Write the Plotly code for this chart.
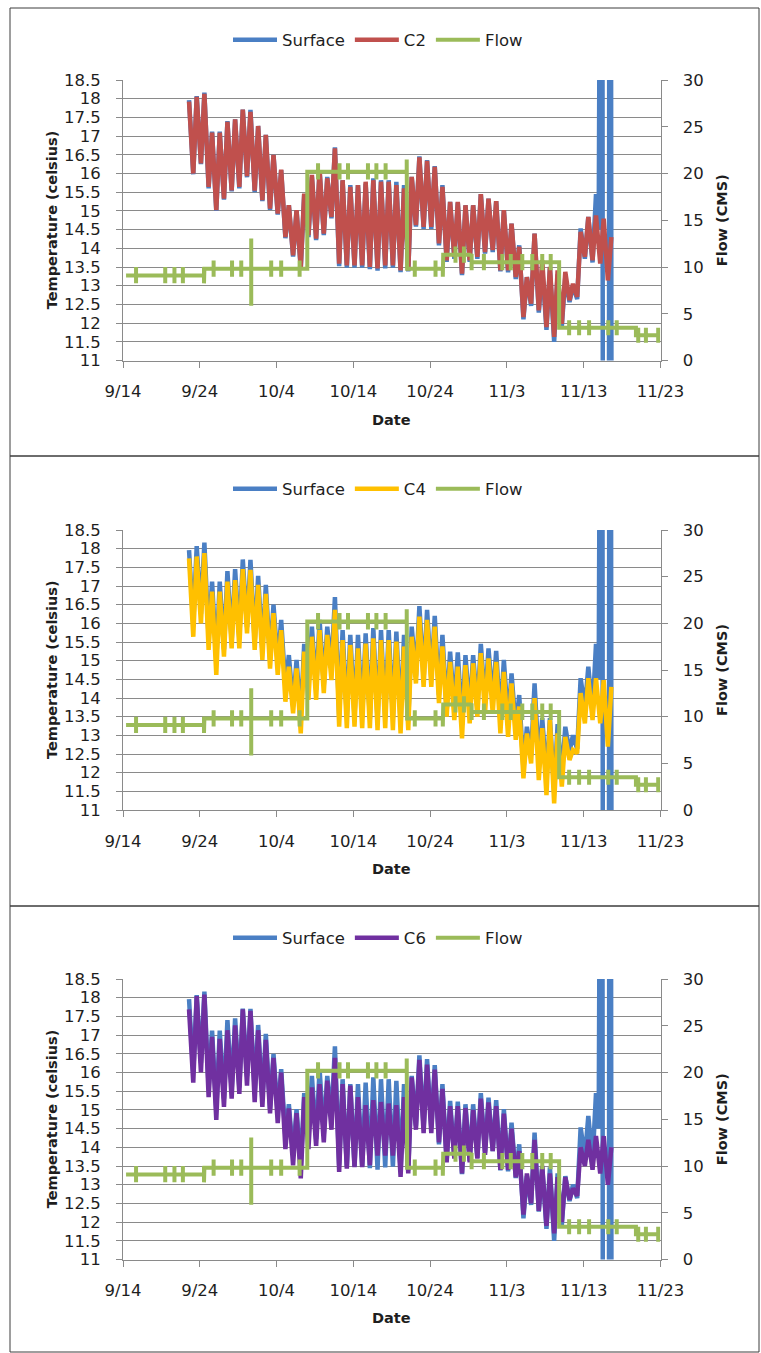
import plotly.graph_objects as go
from datetime import datetime, timedelta

W, H = 761, 1353
BASE = datetime(2009, 9, 14)

# ---------------- data ----------------
# day offsets from 9/14: daily maxima (afternoon) start at day 8, minima (early morning) at day 9
hi_days = list(range(8, 64))
lo_days = list(range(9, 64))

surface_hi = [17.96, 18.07, 18.16, 17.12, 17.12, 17.40, 17.45, 17.71, 17.70, 17.27,
              17.03, 16.50, 16.09, 15.15, 15.02, 15.45, 15.91, 16.09, 15.91, 16.70,
              15.82, 15.69, 15.69, 15.73, 15.87, 15.82, 15.82, 15.78, 15.69, 15.91,
              16.46, 16.36, 16.20, 15.69, 15.24, 15.22, 15.15, 15.15, 15.45, 15.33,
              15.26, 15.02, 14.66, 14.08, 13.23, 14.39, 13.46, 13.46, 13.30, 13.23,
              13.00, 14.53, 14.84, 15.45]
surface_lo = [15.98, 16.25, 15.60, 15.00, 15.30, 15.52, 15.60, 15.90, 15.50, 15.26,
              15.03, 14.90, 14.27, 13.78, 13.45, 14.30, 14.22, 14.35, 14.80, 13.52,
              13.48, 13.48, 13.48, 13.44, 13.40, 13.46, 13.48, 13.36, 13.38, 14.58,
              14.52, 14.52, 14.08, 13.64, 13.72, 13.28, 13.64, 13.72, 13.86, 13.90,
              13.38, 13.36, 13.18, 12.10, 12.46, 12.28, 11.82, 11.50, 11.92, 12.56,
              12.64, 13.72, 13.62]
# sensor out of the water near 11/15-11/16 (values far off scale)
surface_tail_days = [61.95, 62.25, 62.40, 62.55, 63.25, 63.35, 63.50, 63.70]
surface_tail_vals = [14.5, 30.0, 30.0, -5.0, -5.0, 30.0, 30.0, -5.0]

c2_hi = [17.92, 18.05, 18.13, 17.09, 17.09, 17.38, 17.45, 17.71, 17.65, 17.27,
         17.03, 16.50, 16.10, 15.15, 15.02, 15.46, 15.96, 16.09, 15.87, 16.67,
         15.82, 15.64, 15.69, 15.78, 15.82, 15.78, 15.78, 15.69, 15.60, 15.91,
         16.43, 16.34, 16.18, 15.64, 15.24, 15.24, 15.15, 15.15, 15.45, 15.33,
         15.26, 15.02, 14.66, 14.04, 13.23, 14.39, 13.68, 13.50, 13.41, 13.37,
         13.05, 14.44, 14.84, 14.88, 14.79, 14.30]
c2_lo = [16.00, 16.27, 15.64, 15.02, 15.33, 15.55, 15.64, 15.93, 15.54, 15.29,
         15.06, 14.93, 14.30, 13.81, 13.50, 14.35, 14.26, 14.39, 14.84, 13.59,
         13.54, 13.54, 13.54, 13.50, 13.46, 13.54, 13.54, 13.41, 13.41, 14.62,
         14.57, 14.57, 14.13, 13.68, 13.77, 13.32, 13.68, 13.77, 13.90, 13.95,
         13.41, 13.41, 13.23, 12.16, 12.52, 12.34, 11.89, 11.63, 11.98, 12.61,
         12.70, 13.77, 13.68, 13.59, 13.14]

c4_hi = [17.74, 17.79, 17.88, 16.85, 16.85, 17.12, 17.16, 17.45, 17.43, 17.03,
         16.79, 16.27, 15.82, 14.84, 14.79, 15.24, 15.64, 15.82, 15.69, 16.36,
         15.55, 15.42, 15.33, 15.46, 15.60, 15.55, 15.55, 15.51, 15.38, 15.64,
         16.18, 16.09, 15.91, 15.38, 14.97, 14.84, 14.88, 14.93, 15.20, 15.06,
         14.97, 14.70, 14.39, 13.77, 13.05, 14.00, 13.19, 13.41, 13.05, 12.96,
         12.61, 14.13, 14.53, 14.53, 14.48, 14.30]
c4_lo = [15.64, 16.00, 15.29, 14.62, 15.11, 15.33, 15.33, 15.73, 15.29, 15.02,
         14.79, 14.62, 13.90, 13.59, 13.05, 13.95, 13.95, 14.13, 14.48, 13.23,
         13.19, 13.23, 13.19, 13.19, 13.14, 13.19, 13.14, 13.05, 13.14, 14.39,
         14.30, 14.30, 13.86, 13.50, 13.41, 12.92, 13.32, 13.50, 13.59, 13.59,
         13.05, 12.96, 12.88, 11.85, 12.25, 11.80, 11.40, 11.18, 11.63, 12.34,
         12.52, 13.32, 13.41, 13.32, 12.70]

c6_hi = [17.69, 18.04, 18.08, 16.95, 16.90, 17.13, 17.26, 17.69, 17.65, 17.13,
         16.87, 16.39, 16.00, 15.04, 14.91, 15.34, 15.60, 15.69, 15.78, 16.39,
         15.69, 15.65, 15.34, 15.13, 15.26, 15.21, 15.17, 15.13, 15.34, 15.87,
         16.34, 16.21, 16.08, 15.56, 15.10, 15.10, 15.05, 15.00, 15.30, 15.20,
         15.10, 14.90, 14.50, 13.90, 13.30, 14.20, 13.50, 13.30, 13.20, 13.20,
         12.90, 14.00, 14.20, 14.30, 14.30, 14.00]
c6_lo = [15.73, 16.00, 15.34, 14.73, 15.08, 15.30, 15.43, 15.65, 15.21, 15.08,
         14.91, 14.65, 13.95, 13.52, 13.17, 13.95, 14.04, 14.13, 14.47, 13.34,
         13.43, 13.47, 13.47, 13.52, 13.78, 13.78, 13.78, 13.21, 13.30, 14.47,
         14.38, 14.38, 14.13, 13.60, 13.70, 13.30, 13.60, 13.70, 13.80, 13.90,
         13.40, 13.40, 13.20, 12.20, 12.50, 12.30, 11.90, 11.70, 12.00, 12.60,
         12.70, 13.50, 13.40, 13.30, 13.00]

# flow (CMS): step levels and short glitch spikes
flow_step_days = [0.4, 10.6, 24.0, 37.0, 41.7, 45.3, 56.8, 66.8]
flow_step_levels = [9.1, 9.8, 20.2, 9.8, 11.3, 10.5, 3.5, 2.7]
flow_end_day = 69.9
flow_spike_days = [1.7, 5.5, 6.7, 7.8, 10.55, 11.8, 14.2, 15.4, 16.7, 19.3,
                   20.6, 23.0, 25.4, 28.2, 29.3, 31.9, 33.0, 34.2, 36.95, 38.0,
                   40.7, 41.65, 43.3, 44.4, 45.4, 47.0, 49.4, 50.5, 52.0, 53.3,
                   54.6, 55.7, 58.1, 59.4, 60.7, 63.2, 64.3, 67.1, 68.1, 69.7]
flow_spike_up = [0.9, 0.9, 0.9, 0.9, 0.9, 0.9, 0.9, 0.9, 3.25, 0.9,
                 0.9, 0.9, 0.9, 0.9, 0.9, 0.9, 0.9, 0.9, 1.3, 0.9,
                 0.9, 0.9, 0.9, 0.9, 0.9, 0.9, 0.9, 0.9, 0.9, 0.9,
                 0.9, 0.9, 0.8, 0.8, 0.8, 0.8, 0.8, 0.8, 0.8, 0.8]
flow_spike_down = [0.85, 0.85, 0.85, 0.85, 0.85, 0.85, 0.85, 0.85, 3.95, 0.85,
                   0.85, 0.85, 0.85, 0.85, 0.85, 0.85, 0.85, 0.85, 0.0, 0.85,
                   0.85, 0.85, 0.85, 0.85, 0.85, 0.85, 0.85, 0.85, 0.85, 0.85,
                   0.85, 0.85, 0.8, 0.8, 0.8, 0.8, 0.8, 0.8, 0.8, 0.8]

xtick_days = [0, 10, 20, 30, 40, 50, 60, 70]
xtick_labels = ["9/14", "9/24", "10/4", "10/14", "10/24", "11/3", "11/13", "11/23"]

series_names = ["C2", "C4", "C6"]
series_colors = ["#C0504D", "#FFC000", "#7030A0"]
SURF_COLOR = "#4A7FC4"
FLOW_COLOR = "#9BBB59"

# ---------------- helpers ----------------
def to_date(d):
    return BASE + timedelta(days=d)


def daily_series(hi, lo):
    xs, ys = [hi_days[0] + 0.6], [hi[0]]
    for i in range(len(lo)):
        d = lo_days[i]
        xs.append(d + 0.15)
        ys.append(lo[i])
        if i + 1 < len(hi):
            xs.append(d + 0.6)
            ys.append(hi[i + 1])
    return xs, ys


def flow_series():
    events = []
    for d, lv in zip(flow_step_days, flow_step_levels):
        events.append((d, 0, lv, 0))
    for d, u, dn in zip(flow_spike_days, flow_spike_up, flow_spike_down):
        events.append((d, 1, u, dn))
    events.sort(key=lambda e: (e[0], e[1]))
    xs, ys = [], []
    level = None
    for d, kind, a, b in events:
        if kind == 0:
            if level is not None:
                xs.append(d)
                ys.append(level)
            level = a
            xs.append(d)
            ys.append(level)
        else:
            xs += [d, d, d, d]
            ys += [level, level + a, level - b, level]
    xs.append(flow_end_day)
    ys.append(level)
    return xs, ys


sx, sy = daily_series(surface_hi, surface_lo)
sx += surface_tail_days
sy += surface_tail_vals
fx, fy = flow_series()
c_data = [daily_series(c2_hi, c2_lo), daily_series(c4_hi, c4_lo), daily_series(c6_hi, c6_lo)]

# ---------------- figure ----------------
FONT = "DejaVu Sans"
TXT = "#1e1e1e"
GRID = "#8a8a8a"
TICK_SIZE = 16.5
TEMP_W = 4.5

panels = [(80, 360.5), (530, 810), (979, 1259.5)]
legend_y = [40, 489, 938]
date_y = [420, 869, 1318]
boxes = [(8, 456), (456, 906), (906, 1352)]
xdom = [123 / W, 660.5 / W]

fig = go.Figure()
layout = dict(
    width=W, height=H, autosize=False,
    margin=dict(l=0, r=0, t=0, b=0, pad=0, autoexpand=False),
    paper_bgcolor="white", plot_bgcolor="white",
    font=dict(family=FONT, size=TICK_SIZE, color=TXT),
    shapes=[], annotations=[],
)

for i in range(3):
    top, bot = panels[i]
    xa = "x" if i == 0 else f"x{i + 1}"
    yl = "y" if i == 0 else f"y{2 * i + 1}"
    yr = f"y{2 * i + 2}"
    leg = "legend" if i == 0 else f"legend{i + 1}"

    fig.add_trace(go.Scatter(x=[to_date(d) for d in sx], y=sy, mode="lines", name="Surface",
                             line=dict(color=SURF_COLOR, width=TEMP_W), xaxis=xa, yaxis=yl,
                             legend=leg))
    cx, cy = c_data[i]
    fig.add_trace(go.Scatter(x=[to_date(d) for d in cx], y=cy, mode="lines", name=series_names[i],
                             line=dict(color=series_colors[i], width=TEMP_W), xaxis=xa, yaxis=yl,
                             legend=leg))
    fig.add_trace(go.Scatter(x=[to_date(d) for d in fx], y=fy, mode="lines", name="Flow",
                             line=dict(color=FLOW_COLOR, width=4), xaxis=xa, yaxis=yr,
                             legend=leg))

    ydom = [1 - bot / H, 1 - top / H]
    xkey = "xaxis" if i == 0 else f"xaxis{i + 1}"
    ylkey = "yaxis" if i == 0 else f"yaxis{2 * i + 1}"
    yrkey = f"yaxis{2 * i + 2}"

    layout[xkey] = dict(
        domain=xdom, anchor=yl, type="date", automargin=False,
        range=[to_date(0), to_date(70)],
        tickmode="array", tickvals=[to_date(d) for d in xtick_days], ticktext=xtick_labels,
        ticks="outside", ticklen=6, tickcolor=GRID, showline=True, linecolor=GRID, linewidth=1,
        showgrid=False, zeroline=False, ticklabelstandoff=10,
        tickfont=dict(family=FONT, size=TICK_SIZE, color=TXT),
    )
    layout[ylkey] = dict(
        domain=ydom, anchor=xa, range=[11, 18.5], tick0=11, dtick=0.5, automargin=False,
        ticks="outside", ticklen=6, tickcolor=GRID, showline=True, linecolor=GRID, linewidth=1,
        showgrid=True, gridcolor=GRID, gridwidth=1, zeroline=False, ticklabelstandoff=12,
        tickfont=dict(family=FONT, size=TICK_SIZE, color=TXT),
    )
    layout[yrkey] = dict(
        overlaying=yl, side="right", anchor=xa, range=[0, 30], tick0=0, dtick=5,
        automargin=False,
        ticks="outside", ticklen=6, tickcolor=GRID, showline=True, linecolor=GRID, linewidth=1,
        showgrid=False, zeroline=False, ticklabelstandoff=12,
        tickfont=dict(family=FONT, size=TICK_SIZE, color=TXT),
    )
    layout[leg] = dict(
        orientation="h", x=378 / W, xanchor="center", y=1 - legend_y[i] / H, yanchor="middle",
        font=dict(family=FONT, size=TICK_SIZE, color=TXT), bgcolor="rgba(0,0,0,0)",
        itemwidth=44,
    )

    mid = (top + bot) / 2
    layout["annotations"] += [
        dict(text="<b>Temperature (celsius)</b>", xref="paper", yref="paper",
             x=52 / W, y=1 - mid / H, xanchor="center", yanchor="middle",
             textangle=-90, showarrow=False,
             font=dict(family=FONT, size=14.5, color=TXT)),
        dict(text="<b>Flow (CMS)</b>", xref="paper", yref="paper",
             x=722 / W, y=1 - mid / H, xanchor="center", yanchor="middle",
             textangle=-90, showarrow=False,
             font=dict(family=FONT, size=14.5, color=TXT)),
        dict(text="<b>Date</b>", xref="paper", yref="paper",
             x=391 / W, y=1 - date_y[i] / H, xanchor="center", yanchor="middle",
             showarrow=False,
             font=dict(family=FONT, size=14.5, color=TXT)),
    ]
    b0, b1 = boxes[i]
    layout["shapes"].append(dict(type="rect", xref="paper", yref="paper",
                                 x0=10 / W, x1=759 / W, y0=1 - b1 / H, y1=1 - b0 / H,
                                 line=dict(color="#3c3c3c", width=1), layer="below"))

fig.update_layout(**layout)
fig.write_html("out.html")
